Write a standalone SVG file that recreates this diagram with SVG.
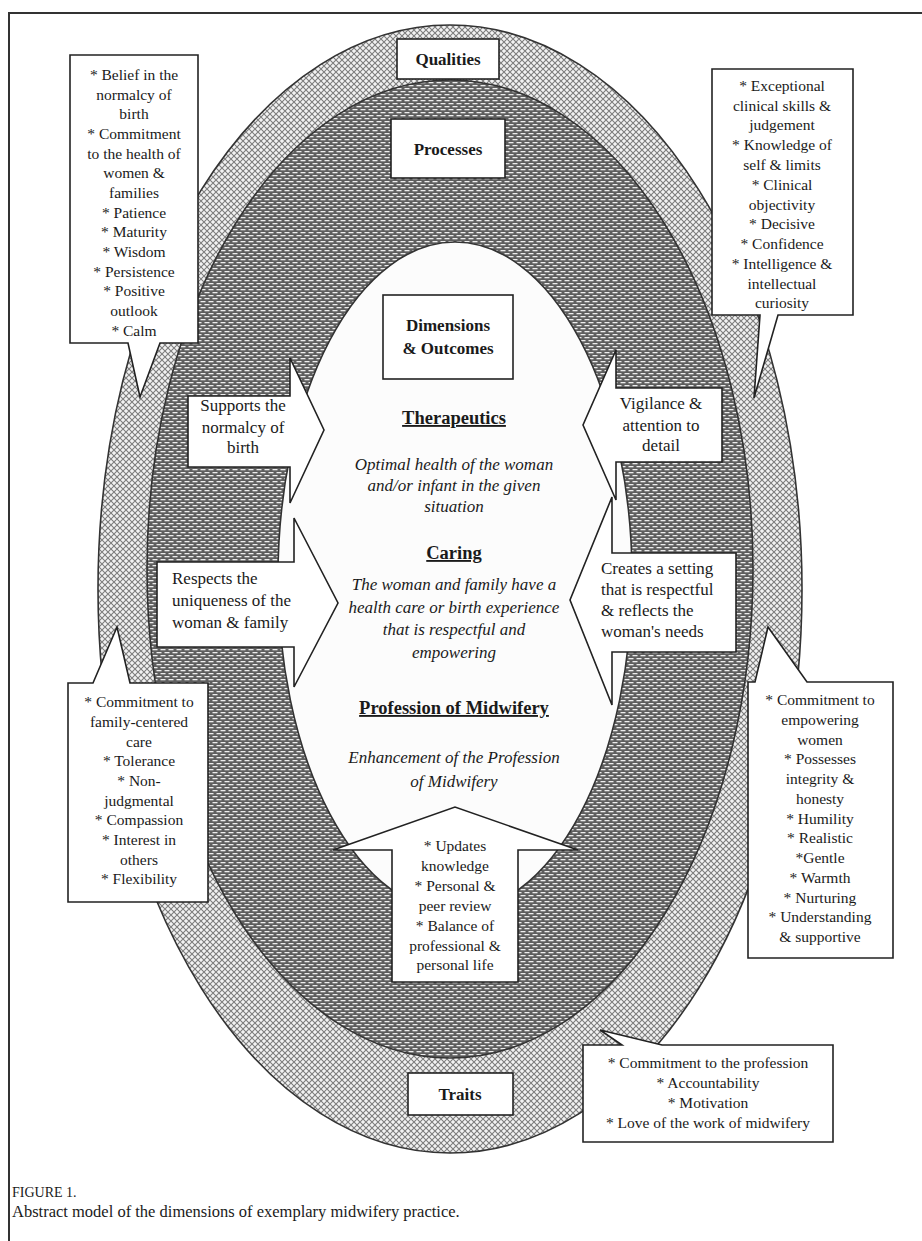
<svg xmlns="http://www.w3.org/2000/svg" width="922" height="1241" viewBox="0 0 922 1241">
<style>
  text { font-family: "Liberation Serif", "Times New Roman", serif; fill: #1a1a1a; }
  .bx { font-size: 15.5px; text-anchor: middle; }
  .ar { font-size: 17px; }
  .arc { font-size: 17px; text-anchor: middle; }
  .lbl { font-size: 17px; font-weight: bold; text-anchor: middle; }
  .hd { font-size: 18.5px; font-weight: bold; text-anchor: middle; text-decoration: underline; }
  .it { font-size: 17px; font-style: italic; text-anchor: middle; }
  .shape { fill: #ffffff; stroke: #222; stroke-width: 1.6; stroke-linejoin: miter; }
  .cap { font-size: 16.5px; }
</style>
<defs>
  <pattern id="lt" width="6" height="6" patternUnits="userSpaceOnUse">
    <rect width="6" height="6" fill="#f2f2f2"/>
    <path d="M0,0 L6,6 M6,0 L0,6" stroke="#7d7d7d" stroke-width="1.1"/>
  </pattern>
  <pattern id="dk" width="8" height="6" patternUnits="userSpaceOnUse">
    <rect width="8" height="6" fill="#5e5e5e"/>
    <rect x="0.5" y="1" width="5" height="1.3" fill="#ededed"/>
    <rect x="4.5" y="4" width="5" height="1.3" fill="#ededed"/>
    <rect x="-3.5" y="4" width="5" height="1.3" fill="#ededed"/>
  </pattern>
</defs>

<g id="frame">
  <path d="M9,1241 V13 H922" fill="none" stroke="#333" stroke-width="2"/>
</g>

<g id="qualities-ring">
  <ellipse cx="450" cy="589" rx="352" ry="564" fill="url(#lt)" stroke="#333" stroke-width="1.6"/>
</g>
<g id="processes-ring">
  <ellipse cx="450" cy="569" rx="303" ry="489" fill="url(#dk)" stroke="#333" stroke-width="1.6"/>
</g>
<g id="dimensions-core">
  <ellipse cx="455" cy="577" rx="177" ry="335" fill="#fcfcfc" stroke="#333" stroke-width="1.6"/>
</g>

<g id="label-qualities">
  <rect class="shape" x="397" y="39" width="102" height="40"/>
  <text class="lbl" x="448" y="65">Qualities</text>
</g>
<g id="label-processes">
  <rect class="shape" x="391" y="119" width="114" height="59"/>
  <text class="lbl" x="448" y="155">Processes</text>
</g>
<g id="label-dimensions">
  <rect class="shape" x="383" y="295" width="130" height="84"/>
  <text class="lbl" x="448" y="331">Dimensions</text>
  <text class="lbl" x="448" y="354">&amp; Outcomes</text>
</g>
<g id="label-traits">
  <rect class="shape" x="408" y="1073" width="105" height="42"/>
  <text class="lbl" x="460" y="1100">Traits</text>
</g>

<g id="connectors">
  <g id="arrow-supports">
    <path class="shape" d="M188,396 H290 V358 L324,430 L290,503 V467 H188 Z"/>
    <text class="arc" x="243" y="411">Supports the</text>
    <text class="arc" x="243" y="433">normalcy of</text>
    <text class="arc" x="243" y="453">birth</text>
  </g>
  <g id="arrow-vigilance">
    <path class="shape" d="M722,388 H616 V350 L583,425 L616,500 V462 H722 Z"/>
    <text class="arc" x="661" y="409">Vigilance &amp;</text>
    <text class="arc" x="661" y="431">attention to</text>
    <text class="arc" x="661" y="451">detail</text>
  </g>
  <g id="arrow-respects">
    <path class="shape" d="M157,562 H294 V518 L338,603 L294,687 V647 H157 Z"/>
    <text class="ar" x="172" y="584">Respects the</text>
    <text class="ar" x="172" y="606">uniqueness of the</text>
    <text class="ar" x="172" y="628">woman &amp; family</text>
  </g>
  <g id="arrow-creates">
    <path class="shape" d="M736,553 H612 V497 L570,600 L612,705 V652 H736 Z"/>
    <text class="ar" x="601" y="574">Creates a setting</text>
    <text class="ar" x="601" y="595">that is respectful</text>
    <text class="ar" x="601" y="616">&amp; reflects the</text>
    <text class="ar" x="601" y="637">woman's needs</text>
  </g>
  <g id="arrow-profession">
    <path class="shape" d="M392,982 V850 H333 L455,807 L578,850 H518 V982 Z"/>
    <text class="bx" x="455" y="851">* Updates</text>
    <text class="bx" x="455" y="871">knowledge</text>
    <text class="bx" x="455" y="891">* Personal &amp;</text>
    <text class="bx" x="455" y="911">peer review</text>
    <text class="bx" x="455" y="931">* Balance of</text>
    <text class="bx" x="455" y="951">professional &amp;</text>
    <text class="bx" x="455" y="970">personal life</text>
  </g>
</g>

<g id="outcomes-text">
  <text class="hd" x="454" y="424">Therapeutics</text>
  <text class="it" x="454" y="470">Optimal health of the woman</text>
  <text class="it" x="454" y="491">and/or infant in the given</text>
  <text class="it" x="454" y="512">situation</text>
  <text class="hd" x="454" y="559">Caring</text>
  <text class="it" x="454" y="590">The woman and family have a</text>
  <text class="it" x="454" y="613">health care or birth experience</text>
  <text class="it" x="454" y="635">that is respectful and</text>
  <text class="it" x="454" y="658">empowering</text>
  <text class="hd" x="454" y="714">Profession of Midwifery</text>
  <text class="it" x="454" y="763">Enhancement of the Profession</text>
  <text class="it" x="454" y="787">of Midwifery</text>
</g>

<g id="callout-top-left">
  <path class="shape" d="M70,55 H198 V343 H160 L140,397 L128,343 H70 Z"/>
  <text class="bx" x="134" y="80">* Belief in the</text>
  <text class="bx" x="134" y="100">normalcy of</text>
  <text class="bx" x="134" y="119">birth</text>
  <text class="bx" x="134" y="139">* Commitment</text>
  <text class="bx" x="134" y="159">to the health of</text>
  <text class="bx" x="134" y="178">women &amp;</text>
  <text class="bx" x="134" y="198">families</text>
  <text class="bx" x="134" y="218">* Patience</text>
  <text class="bx" x="134" y="237">* Maturity</text>
  <text class="bx" x="134" y="257">* Wisdom</text>
  <text class="bx" x="134" y="277">* Persistence</text>
  <text class="bx" x="134" y="296">* Positive</text>
  <text class="bx" x="134" y="316">outlook</text>
  <text class="bx" x="134" y="336">* Calm</text>
</g>

<g id="callout-top-right">
  <path class="shape" d="M712,69 H853 V315 H778 L754,398 L760,315 H712 Z"/>
  <text class="bx" x="782" y="91">* Exceptional</text>
  <text class="bx" x="782" y="111">clinical skills &amp;</text>
  <text class="bx" x="782" y="130">judgement</text>
  <text class="bx" x="782" y="150">* Knowledge of</text>
  <text class="bx" x="782" y="170">self &amp; limits</text>
  <text class="bx" x="782" y="190">* Clinical</text>
  <text class="bx" x="782" y="210">objectivity</text>
  <text class="bx" x="782" y="229">* Decisive</text>
  <text class="bx" x="782" y="249">* Confidence</text>
  <text class="bx" x="782" y="269">* Intelligence &amp;</text>
  <text class="bx" x="782" y="289">intellectual</text>
  <text class="bx" x="782" y="308">curiosity</text>
</g>

<g id="callout-bottom-left">
  <path class="shape" d="M68,683 H93 L117,627 L130,683 H208 V902 H68 Z"/>
  <text class="bx" x="139" y="707">* Commitment to</text>
  <text class="bx" x="139" y="727">family-centered</text>
  <text class="bx" x="139" y="747">care</text>
  <text class="bx" x="139" y="766">* Tolerance</text>
  <text class="bx" x="139" y="786">* Non-</text>
  <text class="bx" x="139" y="806">judgmental</text>
  <text class="bx" x="139" y="825">* Compassion</text>
  <text class="bx" x="139" y="845">* Interest in</text>
  <text class="bx" x="139" y="865">others</text>
  <text class="bx" x="139" y="884">* Flexibility</text>
</g>

<g id="callout-bottom-right">
  <path class="shape" d="M748,682 H755 L768,627 L807,682 H893 V958 H748 Z"/>
  <text class="bx" x="820" y="705">* Commitment to</text>
  <text class="bx" x="820" y="725">empowering</text>
  <text class="bx" x="820" y="745">women</text>
  <text class="bx" x="820" y="764">* Possesses</text>
  <text class="bx" x="820" y="784">integrity &amp;</text>
  <text class="bx" x="820" y="804">honesty</text>
  <text class="bx" x="820" y="824">* Humility</text>
  <text class="bx" x="820" y="843">* Realistic</text>
  <text class="bx" x="820" y="863">*Gentle</text>
  <text class="bx" x="820" y="883">* Warmth</text>
  <text class="bx" x="820" y="903">* Nurturing</text>
  <text class="bx" x="820" y="922">* Understanding</text>
  <text class="bx" x="820" y="942">&amp; supportive</text>
</g>

<g id="callout-traits">
  <path class="shape" d="M583,1045 H622 L600,1030 L662,1045 H833 V1142 H583 Z"/>
  <text class="bx" x="708" y="1068">* Commitment to the profession</text>
  <text class="bx" x="708" y="1088">* Accountability</text>
  <text class="bx" x="708" y="1108">* Motivation</text>
  <text class="bx" x="708" y="1128">* Love of the work of midwifery</text>
</g>

<g id="caption">
  <text class="cap" x="12" y="1197" style="font-size:14px">FIGURE 1.</text>
  <text class="cap" x="12" y="1217">Abstract model of the dimensions of exemplary midwifery practice.</text>
</g>
</svg>
